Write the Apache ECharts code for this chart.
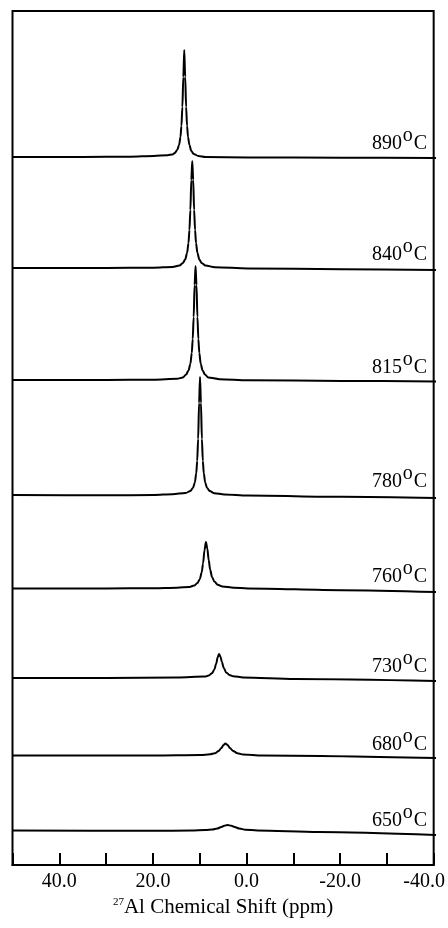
<!DOCTYPE html>
<html>
<head>
<meta charset="utf-8">
<script src="https://cdn.jsdelivr.net/npm/echarts@6/dist/echarts.min.js"></script>
<style>html,body{margin:0;padding:0;background:#fff}#c{width:448px;height:928px}</style>
</head>
<body>
<div id="c"></div>
<script>
// ---- data (chemical shift in ppm, intensity in arbitrary units) ----
const temperatures = ['890', '840', '815', '780', '760', '730', '680', '650'];
const tickValues = [40, 20, 0, -20, -40];

const spec890 = [[50,0],[35,0],[25,0.3],[20,1],[17,1.8],[16,2.5],[15.5,4],[15,7],[14.6,12],[14.3,20],[14.1,31],[13.9,50],[13.7,80],[13.5,107],[13.3,80],[13.1,50],[12.9,31],[12.7,20],[12.4,12],[12,6],[11.5,3],[10.5,1],[9,0],[0,-0.4],[-20,-0.7],[-40,-1]];
const spec840 = [[50,0],[30,0],[20,0.3],[16,1],[14.5,2.5],[13.8,5],[13.3,8.5],[12.9,15],[12.6,25],[12.4,38],[12.2,58],[12,88],[11.8,107],[11.6,88],[11.4,58],[11.2,38],[11,25],[10.7,15],[10.3,8.5],[9.8,5],[9,2.5],[7,0.8],[0,-0.5],[-20,-1.2],[-40,-2]];
const spec815 = [[50,0],[30,0],[20,0.3],[15,1.2],[13.8,2.5],[13.1,5.5],[12.6,9.5],[12.2,16],[11.9,27],[11.7,41],[11.5,63],[11.3,95],[11.1,114],[10.9,95],[10.7,63],[10.5,41],[10.3,27],[10,16],[9.6,9.5],[9.1,5.5],[8.4,2.5],[6,0.8],[0,-0.3],[-20,-0.9],[-40,-1.5]];
const spec780 = [[50,0],[30,-0.3],[20,0],[16,0.8],[13.2,2],[12.2,4],[11.65,7],[11.25,12.5],[10.95,21.7],[10.75,34],[10.55,56],[10.35,92],[10.15,118],[9.95,92],[9.75,56],[9.55,34],[9.35,21.7],[9.05,12.5],[8.65,7],[8.1,4],[7.1,1.8],[5,0.5],[0,-0.5],[-20,-1.8],[-40,-3]];
const spec760 = [[50,0],[30,0],[20,0.3],[15,0.8],[12.4,1.6],[11.4,2.9],[10.7,5.4],[10.2,9.3],[9.8,15.9],[9.5,25.1],[9.2,38.3],[8.9,46.5],[8.6,40],[8.3,28.4],[8,19],[7.6,11.6],[7.1,6.9],[6.4,3.8],[5.4,2],[3,0.8],[0,0],[-20,-1.7],[-40,-3.5]];
const spec730 = [[50,0],[30,0],[15,0.5],[9.1,1.4],[8.3,2.5],[7.6,4.8],[7.1,8.6],[6.7,14.6],[6.4,20.7],[6.1,24],[5.8,21.3],[5.5,16],[5.1,10],[4.6,5.6],[3.9,3.1],[3.1,1.8],[1,0.6],[-10,-1],[-40,-3]];
const spec680 = [[50,0],[20,0],[10,0.5],[8,1.2],[7,2.2],[6.2,4.5],[5.6,7.5],[5.15,10.5],[4.75,12],[4.3,10.5],[3.8,7.5],[3.1,4.5],[2.2,2.2],[1,1],[-3,0],[-40,-2.5]];
const spec650 = [[50,0],[20,-0.3],[12,0],[9,0.5],[7.5,1],[6.5,2],[5.6,3.5],[5,4.7],[4.3,5.5],[3.5,4.7],[2.8,3.5],[1.8,2],[0.5,0.8],[-2,0],[-15,-1.5],[-40,-4.5]];

const spectra = [spec890, spec840, spec815, spec780, spec760, spec730, spec680, spec650];

// ---- layout (pixels) ----
const baselineY = [157, 268, 380, 495, 588.5, 678, 755.5, 830.5];
const labelBottom = [150, 261, 374, 488, 583, 673, 751, 827];
const FONT = "'Liberation Serif', serif";
const L = 12.5, R = 12;

const grids = [{left: L, right: R, top: 11, bottom: 63, show: true, borderColor: '#000', borderWidth: 2, backgroundColor: 'transparent'}];
const xAxes = [{
  type: 'value', gridIndex: 0, min: -40, max: 50, interval: 10, inverse: true,
  axisLine: {show: true, onZero: false, lineStyle: {color: '#000', width: 2}},
  axisTick: {show: true, inside: true, length: 12, lineStyle: {color: '#000', width: 2}},
  splitLine: {show: false},
  axisLabel: {
    margin: 7, color: '#000', fontFamily: FONT, fontSize: 20,
    formatter: function (v) {
      if (tickValues.indexOf(v) < 0) return '';
      if (v === -40) return '{r|' + v.toFixed(1) + '}';
      return v.toFixed(1);
    },
    rich: {r: {fontFamily: FONT, fontSize: 20, color: '#000', padding: [0, 19, 0, 0]}}
  },
  name: '{s|27}{t|Al Chemical Shift (ppm)}',
  nameLocation: 'middle', nameGap: 30,
  nameTextStyle: {
    color: '#000',
    rich: {
      s: {fontFamily: FONT, fontSize: 11, color: '#000', verticalAlign: 'top', lineHeight: 10},
      t: {fontFamily: FONT, fontSize: 21, color: '#000', lineHeight: 22}
    }
  }
}];
const yAxes = [{type: 'value', gridIndex: 0, show: false, min: 0, max: 1}];
const series = [];
const graphics = [];

spectra.forEach(function (d, i) {
  grids.push({left: L, right: R, top: baselineY[i] - 120, height: 130});
  xAxes.push({type: 'value', gridIndex: i + 1, min: -40, max: 50, inverse: true, show: false});
  yAxes.push({type: 'value', gridIndex: i + 1, min: -10, max: 120, show: false});
  series.push({
    type: 'line', xAxisIndex: i + 1, yAxisIndex: i + 1, data: d,
    symbol: 'none', showSymbol: false, smooth: 0.3, smoothMonotone: 'x',
    lineStyle: {color: '#000', width: 2}, clip: false, silent: true
  });
  const yMid = labelBottom[i] - 6.75;
  graphics.push({type: 'text', x: 402, y: yMid, silent: true,
    style: {text: temperatures[i], fontFamily: FONT, fontSize: 20, fill: '#000', align: 'right', verticalAlign: 'middle'}});
  graphics.push({type: 'text', x: 402.7, y: yMid - 8, silent: true,
    style: {text: 'o', fontFamily: FONT, fontSize: 20, fill: '#000', align: 'left', verticalAlign: 'middle'}});
  graphics.push({type: 'text', x: 427, y: yMid, silent: true,
    style: {text: 'C', fontFamily: FONT, fontSize: 20, fill: '#000', align: 'right', verticalAlign: 'middle'}});
});

const chart = echarts.init(document.getElementById('c'));
chart.setOption({
  animation: false,
  backgroundColor: '#fff',
  grid: grids,
  xAxis: xAxes,
  yAxis: yAxes,
  series: series,
  graphic: graphics
});
</script>
</body>
</html>
